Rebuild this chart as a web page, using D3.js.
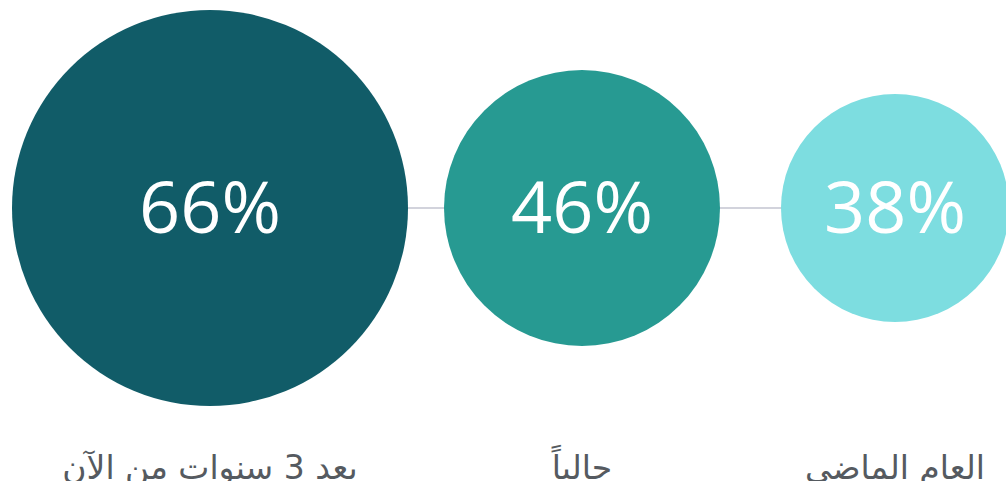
<!DOCTYPE html>
<html>
<head>
<meta charset="utf-8">
<script src="https://cdn.jsdelivr.net/npm/d3@7"></script>
<style>
  html, body { margin: 0; padding: 0; background: #fff; overflow: hidden; }
  svg { display: block; }
</style>
</head>
<body>
<svg id="chart" width="1006" height="481"></svg>
<script>
const categories = ['بعد 3 سنوات من الآن', 'حالياً', 'العام الماضي'];
const values = [66, 46, 38];
const colors = ['#115c68', '#279a92', '#7ddde0'];

const W = 1006;
const H = 481;
const cy = 208;

const svg = d3.select('#chart');

// circle centres per column, radius scales linearly with the value
const x = d3.scaleOrdinal()
  .domain(categories)
  .range([210, 582, 895]);
const r = d3.scaleLinear()
  .domain([0, 66])
  .range([0, 198]);

const data = categories.map((c, i) => ({ cat: c, value: values[i], color: colors[i] }));

svg.append('line')
  .attr('x1', x(categories[0]))
  .attr('x2', x(categories[categories.length - 1]))
  .attr('y1', cy)
  .attr('y2', cy)
  .attr('stroke', '#c3c5d0')
  .attr('stroke-width', 1.5);

svg.selectAll('circle.bubble').data(data).join('circle')
  .attr('class', 'bubble')
  .attr('cx', d => x(d.cat))
  .attr('cy', cy)
  .attr('r', d => r(d.value))
  .attr('fill', d => d.color);

svg.selectAll('text.val').data(data).join('text')
  .attr('class', 'val')
  .attr('x', d => x(d.cat))
  .attr('y', cy)
  .attr('dy', '0.35em')
  .attr('text-anchor', 'middle')
  .attr('fill', '#fff')
  .attr('font-family', '"Open Sans", "Noto Sans", sans-serif')
  .attr('font-size', 72)
  .text(d => `${d.value}%`);

// labels sit partly below the bottom edge, as in the original
svg.selectAll('text.cat').data(data).join('text')
  .attr('class', 'cat')
  .attr('x', d => x(d.cat))
  .attr('y', 479)
  .attr('text-anchor', 'middle')
  .attr('direction', 'rtl')
  .attr('fill', '#555a60')
  .attr('font-family', '"DejaVu Sans", sans-serif')
  .attr('font-size', 33)
  .text(d => d.cat);
</script>
</body>
</html>
